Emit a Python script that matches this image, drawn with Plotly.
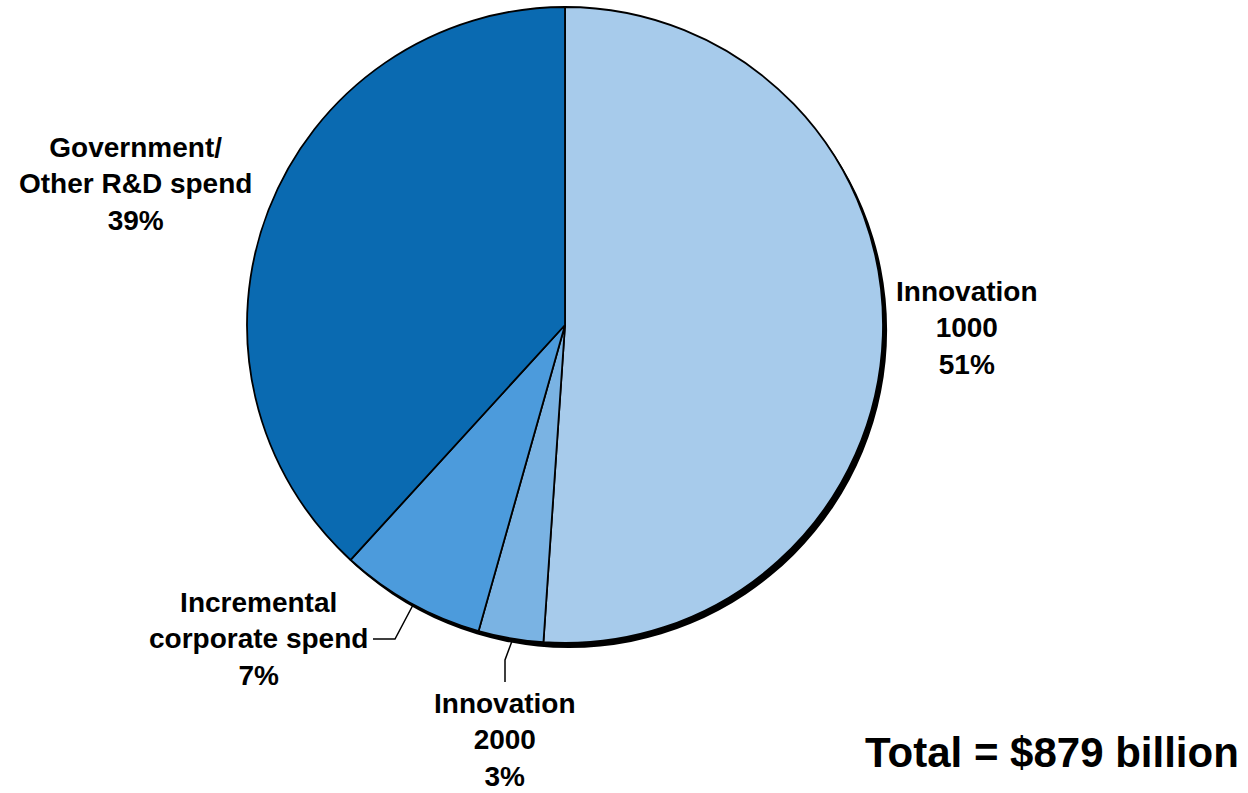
import plotly.graph_objects as go

labels = ["Innovation<br>1000", "Innovation<br>2000", "Incremental<br>corporate spend", "Government/<br>Other R&D spend"]
values = [449, 29, 65, 336]  # $ billion, total 879
pct_labels = ["51%", "3%", "7%", "39%"]
colors = ["#A7CBEB", "#7AB3E3", "#4C9BDC", "#0A6AB1"]
total_text = "Total = $879 billion"

W, H = 1248, 793
cx, cy, r = 565, 325, 318

def dom(cx, cy, r):
    return dict(x=[(cx - r) / W, (cx + r) / W], y=[(H - cy - r) / H, (H - cy + r) / H])

fig = go.Figure()
# shadow
fig.add_trace(go.Pie(values=[1], marker=dict(colors=["#000000"], line=dict(width=0)),
                     domain=dom(cx + 4, cy + 5, r), textinfo="none", hoverinfo="skip",
                     showlegend=False, sort=False))
fig.add_trace(go.Pie(labels=labels, values=values, marker=dict(colors=colors, line=dict(color="black", width=1.8)),
                     domain=dom(cx, cy, r), textinfo="none", sort=False, direction="clockwise",
                     rotation=0, showlegend=False))

font = dict(family="Liberation Sans, Arial, sans-serif", size=28, color="black")
label_pos = [(967, 328), (505, 740), (258, 639), (135, 184)]
for lab, p, (x, y) in zip(labels, pct_labels, label_pos):
    fig.add_annotation(x=x / W, y=1 - y / H, xref="paper", yref="paper",
                       text="<b>" + lab + "<br>" + p + "</b>", showarrow=False,
                       font=font, align="center", xanchor="center", yanchor="middle")

fig.add_annotation(x=1241 / W, y=1 - 752 / H, xref="paper", yref="paper",
                   text="<b>" + total_text + "</b>", showarrow=False,
                   font=dict(family="Liberation Sans, Arial, sans-serif", size=42, color="black"),
                   xanchor="right", yanchor="middle")

# leader lines
def px(x, y):
    return x / W, 1 - y / H
lines = [[(413, 605), (395, 639), (373, 639)], [(512, 641), (505, 660), (505, 682)]]
for pts in lines:
    path = "M " + " L ".join(f"{px(x,y)[0]},{px(x,y)[1]}" for x, y in pts)
    fig.add_shape(type="path", path=path, xref="paper", yref="paper", line=dict(color="black", width=1.5))

fig.update_layout(width=W, height=H, margin=dict(l=0, r=0, t=0, b=0),
                  paper_bgcolor="white", plot_bgcolor="white")
fig.write_html("out.html")
